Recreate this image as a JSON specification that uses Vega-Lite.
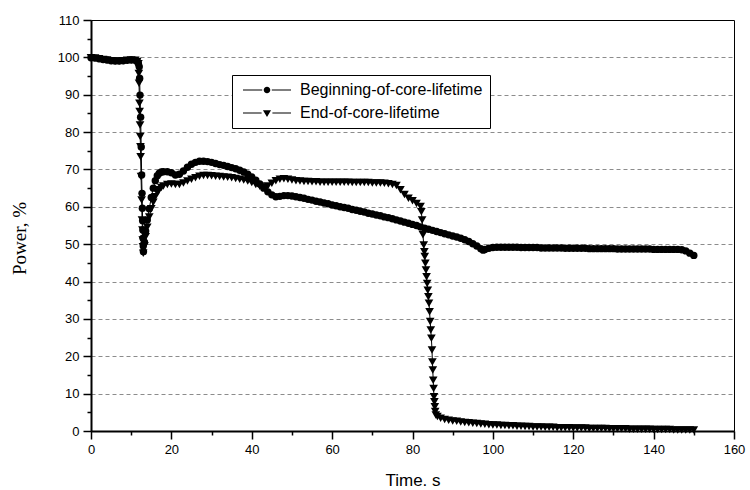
{
  "$schema": "https://vega.github.io/schema/vega-lite/v6.json",
  "width": 643,
  "height": 411,
  "autosize": "none",
  "padding": {"left": 91, "top": 20, "right": 16, "bottom": 59},
  "background": "white",
  "config": {"view": {"stroke": "black", "strokeWidth": 1}, "font": "Liberation Sans"},
  "data": {"values": [
    {"t":0,"p":99.9,"s":"B"},{"t":1,"p":99.8,"s":"B"},{"t":2,"p":99.6,"s":"B"},{"t":3,"p":99.4,"s":"B"},{"t":4,"p":99.3,"s":"B"},{"t":5,"p":99.1,"s":"B"},{"t":6,"p":99.0,"s":"B"},{"t":7,"p":99.0,"s":"B"},{"t":8,"p":99.1,"s":"B"},{"t":9,"p":99.2,"s":"B"},{"t":10,"p":99.3,"s":"B"},{"t":11,"p":99.2,"s":"B"},{"t":11.5,"p":98.9,"s":"B"},{"t":11.8,"p":98.3,"s":"B"},
    {"t":12.0,"p":97.5,"s":"B"},{"t":12.1,"p":94.4,"s":"B"},{"t":12.2,"p":89.9,"s":"B"},{"t":12.35,"p":84,"s":"B"},{"t":12.5,"p":76,"s":"B"},{"t":12.6,"p":68.5,"s":"B"},{"t":12.7,"p":63.6,"s":"B"},{"t":12.78,"p":59.6,"s":"B"},{"t":12.85,"p":56.3,"s":"B"},{"t":12.9,"p":53.8,"s":"B"},{"t":12.95,"p":51.6,"s":"B"},{"t":13.0,"p":49.5,"s":"B"},{"t":13.05,"p":48.0,"s":"B"},
    {"t":13.3,"p":50.5,"s":"B"},{"t":13.6,"p":53.5,"s":"B"},{"t":14,"p":56.5,"s":"B"},{"t":14.5,"p":59.5,"s":"B"},{"t":15,"p":62.5,"s":"B"},{"t":15.5,"p":65,"s":"B"},{"t":16,"p":67,"s":"B"},{"t":16.5,"p":68.3,"s":"B"},{"t":17,"p":69,"s":"B"},{"t":17.5,"p":69.3,"s":"B"},{"t":18,"p":69.4,"s":"B"},{"t":19,"p":69.4,"s":"B"},{"t":20,"p":69.1,"s":"B"},{"t":21,"p":68.5,"s":"B"},{"t":22,"p":68.7,"s":"B"},{"t":23,"p":69.6,"s":"B"},{"t":24,"p":70.6,"s":"B"},{"t":25,"p":71.4,"s":"B"},{"t":26,"p":71.9,"s":"B"},{"t":27,"p":72.2,"s":"B"},{"t":28,"p":72.2,"s":"B"},{"t":29,"p":72.1,"s":"B"},{"t":30,"p":71.9,"s":"B"},{"t":31,"p":71.6,"s":"B"},{"t":32,"p":71.3,"s":"B"},{"t":33,"p":71.1,"s":"B"},{"t":34,"p":70.8,"s":"B"},{"t":35,"p":70.5,"s":"B"},{"t":36,"p":70.2,"s":"B"},{"t":37,"p":69.8,"s":"B"},{"t":38,"p":69.3,"s":"B"},{"t":39,"p":68.7,"s":"B"},{"t":40,"p":68.0,"s":"B"},{"t":41,"p":67.1,"s":"B"},{"t":42,"p":66.1,"s":"B"},{"t":43,"p":65.0,"s":"B"},{"t":44,"p":64.0,"s":"B"},{"t":45,"p":63.2,"s":"B"},{"t":46,"p":62.7,"s":"B"},{"t":47,"p":62.8,"s":"B"},{"t":48,"p":63.0,"s":"B"},{"t":49,"p":63.0,"s":"B"},{"t":50,"p":62.9,"s":"B"},{"t":51,"p":62.7,"s":"B"},{"t":52,"p":62.5,"s":"B"},{"t":53,"p":62.3,"s":"B"},{"t":54,"p":62.0,"s":"B"},{"t":55,"p":61.8,"s":"B"},{"t":56,"p":61.5,"s":"B"},{"t":57,"p":61.3,"s":"B"},{"t":58,"p":61.0,"s":"B"},{"t":59,"p":60.8,"s":"B"},{"t":60,"p":60.5,"s":"B"},{"t":61,"p":60.3,"s":"B"},{"t":62,"p":60.0,"s":"B"},{"t":63,"p":59.8,"s":"B"},{"t":64,"p":59.6,"s":"B"},{"t":65,"p":59.3,"s":"B"},{"t":66,"p":59.1,"s":"B"},{"t":67,"p":58.8,"s":"B"},{"t":68,"p":58.6,"s":"B"},{"t":69,"p":58.3,"s":"B"},{"t":70,"p":58.1,"s":"B"},{"t":71,"p":57.8,"s":"B"},{"t":72,"p":57.6,"s":"B"},{"t":73,"p":57.3,"s":"B"},{"t":74,"p":57.1,"s":"B"},{"t":75,"p":56.8,"s":"B"},{"t":76,"p":56.5,"s":"B"},{"t":77,"p":56.2,"s":"B"},{"t":78,"p":55.9,"s":"B"},{"t":79,"p":55.6,"s":"B"},{"t":80,"p":55.3,"s":"B"},{"t":81,"p":55.0,"s":"B"},{"t":82,"p":54.6,"s":"B"},{"t":83,"p":54.3,"s":"B"},{"t":84,"p":54.0,"s":"B"},{"t":85,"p":53.7,"s":"B"},{"t":86,"p":53.4,"s":"B"},{"t":87,"p":53.1,"s":"B"},{"t":88,"p":52.8,"s":"B"},{"t":89,"p":52.5,"s":"B"},{"t":90,"p":52.2,"s":"B"},{"t":91,"p":51.9,"s":"B"},{"t":92,"p":51.6,"s":"B"},{"t":93,"p":51.2,"s":"B"},{"t":94,"p":50.7,"s":"B"},{"t":95,"p":50.1,"s":"B"},{"t":96,"p":49.5,"s":"B"},{"t":97,"p":48.8,"s":"B"},{"t":97.6,"p":48.4,"s":"B"},{"t":98,"p":48.6,"s":"B"},{"t":99,"p":48.9,"s":"B"},{"t":100,"p":49.1,"s":"B"},{"t":101,"p":49.2,"s":"B"},{"t":102,"p":49.2,"s":"B"},{"t":103,"p":49.2,"s":"B"},{"t":104,"p":49.2,"s":"B"},{"t":105,"p":49.2,"s":"B"},{"t":106,"p":49.2,"s":"B"},{"t":107,"p":49.1,"s":"B"},{"t":108,"p":49.1,"s":"B"},{"t":109,"p":49.1,"s":"B"},{"t":110,"p":49.1,"s":"B"},{"t":111,"p":49.1,"s":"B"},{"t":112,"p":49.0,"s":"B"},{"t":113,"p":49.0,"s":"B"},{"t":114,"p":49.0,"s":"B"},{"t":115,"p":49.0,"s":"B"},{"t":116,"p":49.0,"s":"B"},{"t":117,"p":49.0,"s":"B"},{"t":118,"p":48.9,"s":"B"},{"t":119,"p":48.9,"s":"B"},{"t":120,"p":48.9,"s":"B"},{"t":121,"p":48.9,"s":"B"},{"t":122,"p":48.9,"s":"B"},{"t":123,"p":48.9,"s":"B"},{"t":124,"p":48.8,"s":"B"},{"t":125,"p":48.8,"s":"B"},{"t":126,"p":48.8,"s":"B"},{"t":127,"p":48.8,"s":"B"},{"t":128,"p":48.8,"s":"B"},{"t":129,"p":48.8,"s":"B"},{"t":130,"p":48.8,"s":"B"},{"t":131,"p":48.7,"s":"B"},{"t":132,"p":48.7,"s":"B"},{"t":133,"p":48.7,"s":"B"},{"t":134,"p":48.7,"s":"B"},{"t":135,"p":48.7,"s":"B"},{"t":136,"p":48.7,"s":"B"},{"t":137,"p":48.7,"s":"B"},{"t":138,"p":48.7,"s":"B"},{"t":139,"p":48.7,"s":"B"},{"t":140,"p":48.6,"s":"B"},{"t":141,"p":48.6,"s":"B"},{"t":142,"p":48.6,"s":"B"},{"t":143,"p":48.6,"s":"B"},{"t":144,"p":48.6,"s":"B"},{"t":145,"p":48.6,"s":"B"},{"t":146,"p":48.6,"s":"B"},{"t":147,"p":48.5,"s":"B"},{"t":148,"p":48.2,"s":"B"},{"t":149,"p":47.6,"s":"B"},{"t":150,"p":47.0,"s":"B"},
    {"t":0,"p":99.9,"s":"E"},{"t":1,"p":99.8,"s":"E"},{"t":2,"p":99.6,"s":"E"},{"t":3,"p":99.4,"s":"E"},{"t":4,"p":99.3,"s":"E"},{"t":5,"p":99.1,"s":"E"},{"t":6,"p":99.0,"s":"E"},{"t":7,"p":99.0,"s":"E"},{"t":8,"p":99.1,"s":"E"},{"t":9,"p":99.2,"s":"E"},{"t":10,"p":99.3,"s":"E"},{"t":11,"p":99.2,"s":"E"},{"t":11.5,"p":98.9,"s":"E"},{"t":11.8,"p":98.3,"s":"E"},
    {"t":11.9,"p":95.7,"s":"E"},{"t":11.95,"p":93.1,"s":"E"},{"t":12.05,"p":87.7,"s":"E"},{"t":12.1,"p":85.5,"s":"E"},{"t":12.2,"p":81.9,"s":"E"},{"t":12.25,"p":78.8,"s":"E"},{"t":12.3,"p":76.1,"s":"E"},{"t":12.35,"p":73.4,"s":"E"},{"t":12.45,"p":68.1,"s":"E"},{"t":12.6,"p":61.8,"s":"E"},{"t":12.7,"p":56.5,"s":"E"},{"t":12.8,"p":53.8,"s":"E"},{"t":12.87,"p":51.1,"s":"E"},{"t":12.93,"p":49.3,"s":"E"},{"t":13.0,"p":47.6,"s":"E"},
    {"t":13.3,"p":49.5,"s":"E"},{"t":13.6,"p":52,"s":"E"},{"t":14,"p":54.5,"s":"E"},{"t":14.5,"p":57.3,"s":"E"},{"t":15,"p":59.5,"s":"E"},{"t":15.5,"p":61.2,"s":"E"},{"t":16,"p":62.7,"s":"E"},{"t":16.5,"p":63.8,"s":"E"},{"t":17,"p":64.6,"s":"E"},{"t":17.5,"p":65.2,"s":"E"},{"t":18,"p":65.6,"s":"E"},{"t":19,"p":66.0,"s":"E"},{"t":20,"p":66.1,"s":"E"},{"t":21,"p":66.0,"s":"E"},{"t":22,"p":66.0,"s":"E"},{"t":23,"p":66.4,"s":"E"},{"t":24,"p":66.9,"s":"E"},{"t":25,"p":67.4,"s":"E"},{"t":26,"p":67.8,"s":"E"},{"t":27,"p":68.2,"s":"E"},{"t":28,"p":68.4,"s":"E"},{"t":29,"p":68.4,"s":"E"},{"t":30,"p":68.3,"s":"E"},{"t":31,"p":68.2,"s":"E"},{"t":32,"p":68.1,"s":"E"},{"t":33,"p":68.0,"s":"E"},{"t":34,"p":67.9,"s":"E"},{"t":35,"p":67.8,"s":"E"},{"t":36,"p":67.6,"s":"E"},{"t":37,"p":67.4,"s":"E"},{"t":38,"p":67.2,"s":"E"},{"t":39,"p":66.9,"s":"E"},{"t":40,"p":66.5,"s":"E"},{"t":41,"p":66.0,"s":"E"},{"t":42,"p":65.5,"s":"E"},{"t":43,"p":65.3,"s":"E"},{"t":44,"p":65.6,"s":"E"},{"t":45,"p":66.3,"s":"E"},{"t":46,"p":67.0,"s":"E"},{"t":47,"p":67.4,"s":"E"},{"t":48,"p":67.5,"s":"E"},{"t":49,"p":67.4,"s":"E"},{"t":50,"p":67.2,"s":"E"},{"t":51,"p":67.0,"s":"E"},{"t":52,"p":66.9,"s":"E"},{"t":53,"p":66.8,"s":"E"},{"t":54,"p":66.8,"s":"E"},{"t":55,"p":66.7,"s":"E"},{"t":56,"p":66.7,"s":"E"},{"t":57,"p":66.6,"s":"E"},{"t":58,"p":66.6,"s":"E"},{"t":59,"p":66.6,"s":"E"},{"t":60,"p":66.6,"s":"E"},{"t":61,"p":66.6,"s":"E"},{"t":62,"p":66.6,"s":"E"},{"t":63,"p":66.6,"s":"E"},{"t":64,"p":66.6,"s":"E"},{"t":65,"p":66.5,"s":"E"},{"t":66,"p":66.5,"s":"E"},{"t":67,"p":66.5,"s":"E"},{"t":68,"p":66.5,"s":"E"},{"t":69,"p":66.5,"s":"E"},{"t":70,"p":66.4,"s":"E"},{"t":71,"p":66.4,"s":"E"},{"t":72,"p":66.4,"s":"E"},{"t":73,"p":66.3,"s":"E"},{"t":74,"p":66.2,"s":"E"},{"t":75,"p":66.0,"s":"E"},{"t":76,"p":65.7,"s":"E"},{"t":77,"p":64.6,"s":"E"},{"t":78,"p":63.3,"s":"E"},{"t":79,"p":62.3,"s":"E"},{"t":80,"p":61.6,"s":"E"},{"t":81,"p":60.9,"s":"E"},{"t":82,"p":60.1,"s":"E"},
    {"t":82.2,"p":58.7,"s":"E"},{"t":82.4,"p":56.5,"s":"E"},{"t":82.6,"p":52.5,"s":"E"},{"t":82.8,"p":49.8,"s":"E"},{"t":82.95,"p":48.0,"s":"E"},{"t":83.05,"p":46.7,"s":"E"},{"t":83.2,"p":44.9,"s":"E"},{"t":83.35,"p":43.1,"s":"E"},{"t":83.5,"p":41.3,"s":"E"},{"t":83.65,"p":39.5,"s":"E"},{"t":83.8,"p":37.7,"s":"E"},{"t":83.95,"p":35.9,"s":"E"},{"t":84.1,"p":34.2,"s":"E"},{"t":84.25,"p":31.9,"s":"E"},{"t":84.4,"p":29.3,"s":"E"},{"t":84.55,"p":27.0,"s":"E"},{"t":84.7,"p":24.8,"s":"E"},{"t":84.85,"p":21.7,"s":"E"},{"t":84.95,"p":18.5,"s":"E"},{"t":85.05,"p":16.3,"s":"E"},{"t":85.15,"p":13.6,"s":"E"},{"t":85.25,"p":11.4,"s":"E"},{"t":85.35,"p":9.2,"s":"E"},{"t":85.45,"p":7.8,"s":"E"},{"t":85.55,"p":6.5,"s":"E"},{"t":85.65,"p":5.2,"s":"E"},{"t":85.8,"p":4.3,"s":"E"},
    {"t":86.2,"p":3.9,"s":"E"},{"t":87,"p":3.4,"s":"E"},{"t":88,"p":3.1,"s":"E"},{"t":89,"p":2.9,"s":"E"},{"t":90,"p":2.7,"s":"E"},{"t":91,"p":2.6,"s":"E"},{"t":92,"p":2.4,"s":"E"},{"t":93,"p":2.3,"s":"E"},{"t":94,"p":2.2,"s":"E"},{"t":95,"p":2.1,"s":"E"},{"t":96,"p":2.0,"s":"E"},{"t":97,"p":1.9,"s":"E"},{"t":98,"p":1.8,"s":"E"},{"t":99,"p":1.7,"s":"E"},{"t":100,"p":1.6,"s":"E"},{"t":101,"p":1.6,"s":"E"},{"t":102,"p":1.5,"s":"E"},{"t":103,"p":1.5,"s":"E"},{"t":104,"p":1.4,"s":"E"},{"t":105,"p":1.4,"s":"E"},{"t":106,"p":1.3,"s":"E"},{"t":107,"p":1.3,"s":"E"},{"t":108,"p":1.2,"s":"E"},{"t":109,"p":1.2,"s":"E"},{"t":110,"p":1.1,"s":"E"},{"t":111,"p":1.1,"s":"E"},{"t":112,"p":1.1,"s":"E"},{"t":113,"p":1.0,"s":"E"},{"t":114,"p":1.0,"s":"E"},{"t":115,"p":1.0,"s":"E"},{"t":116,"p":0.9,"s":"E"},{"t":117,"p":0.9,"s":"E"},{"t":118,"p":0.9,"s":"E"},{"t":119,"p":0.9,"s":"E"},{"t":120,"p":0.8,"s":"E"},{"t":121,"p":0.8,"s":"E"},{"t":122,"p":0.8,"s":"E"},{"t":123,"p":0.8,"s":"E"},{"t":124,"p":0.7,"s":"E"},{"t":125,"p":0.7,"s":"E"},{"t":126,"p":0.7,"s":"E"},{"t":127,"p":0.7,"s":"E"},{"t":128,"p":0.7,"s":"E"},{"t":129,"p":0.6,"s":"E"},{"t":130,"p":0.6,"s":"E"},{"t":131,"p":0.6,"s":"E"},{"t":132,"p":0.6,"s":"E"},{"t":133,"p":0.6,"s":"E"},{"t":134,"p":0.5,"s":"E"},{"t":135,"p":0.5,"s":"E"},{"t":136,"p":0.5,"s":"E"},{"t":137,"p":0.5,"s":"E"},{"t":138,"p":0.5,"s":"E"},{"t":139,"p":0.5,"s":"E"},{"t":140,"p":0.4,"s":"E"},{"t":141,"p":0.4,"s":"E"},{"t":142,"p":0.4,"s":"E"},{"t":143,"p":0.4,"s":"E"},{"t":144,"p":0.4,"s":"E"},{"t":145,"p":0.3,"s":"E"},{"t":146,"p":0.3,"s":"E"},{"t":147,"p":0.3,"s":"E"},{"t":148,"p":0.3,"s":"E"},{"t":149,"p":0.3,"s":"E"},{"t":150,"p":0.3,"s":"E"}
  ]},
  "encoding": {
    "x": {
      "field": "t", "type": "quantitative",
      "scale": {"domain": [0, 160], "nice": false, "zero": false},
      "axis": {
        "values": [0,10,20,30,40,50,60,70,80,90,100,110,120,130,140,150,160],
        "title": "Time. s", "grid": false,
        "domainColor": "black", "domainWidth": 2,
        "tickColor": "black", "tickWidth": 1.5,
        "tickSize": {"condition": {"test": "datum.value % 20 === 0", "value": 8}, "value": 4},
        "labelExpr": "datum.value % 20 === 0 ? datum.label : ''",
        "labelFont": "Liberation Sans", "labelFontSize": 13, "labelColor": "black", "labelPadding": 4,
        "labelFlush": false, "labelOverlap": false,
        "titleFont": "Liberation Sans", "titleFontSize": 17, "titleFontWeight": "normal", "titleColor": "black", "titlePadding": 16
      }
    },
    "y": {
      "field": "p", "type": "quantitative",
      "scale": {"domain": [0, 110], "nice": false, "zero": false},
      "axis": {
        "values": [0,5,10,15,20,25,30,35,40,45,50,55,60,65,70,75,80,85,90,95,100,105,110],
        "title": "Power, %",
        "grid": true, "gridColor": "#8c8c8c", "gridDash": [4, 3], "gridWidth": 1,
        "gridOpacity": {"condition": {"test": "datum.value % 10 === 0 && datum.value > 0 && datum.value < 110", "value": 1}, "value": 0},
        "domainColor": "black", "domainWidth": 2,
        "tickColor": "black", "tickWidth": 1.5,
        "tickSize": {"condition": {"test": "datum.value % 10 === 0", "value": 8}, "value": 4},
        "labelExpr": "datum.value % 10 === 0 ? datum.label : ''",
        "labelFont": "Liberation Sans", "labelFontSize": 13, "labelColor": "black", "labelPadding": 4,
        "labelFlush": false, "labelOverlap": false,
        "titleFont": "Liberation Serif", "titleFontSize": 19, "titleFontWeight": "normal", "titleColor": "black",
        "titleX": -62, "titleY": 218
      }
    }
  },
  "layer": [
    {
      "mark": {"type": "line", "color": "black", "strokeWidth": 1},
      "encoding": {"detail": {"field": "s", "type": "nominal"}}
    },
    {
      "mark": {"type": "point", "filled": true, "color": "black", "opacity": 1},
      "encoding": {
        "shape": {
          "field": "s", "type": "nominal",
          "scale": {"domain": ["B", "E"], "range": ["circle", "triangle-down"]},
          "legend": null
        },
        "size": {
          "field": "s", "type": "nominal",
          "scale": {"domain": ["B", "E"], "range": [55, 75]},
          "legend": null
        }
      }
    },
    {
      "transform": [{"filter": "datum.t < 0"}],
      "mark": {"type": "point", "filled": true, "color": "black", "size": 36, "opacity": 1},
      "encoding": {
        "shape": {
          "field": "s", "type": "nominal",
          "scale": {"domain": ["B", "E"], "range": [
            "M-8,-0.2L-1.6,-0.2L-1.6,0.2L-8,0.2Z M1.6,-0.2L8,-0.2L8,0.2L1.6,0.2Z M-1.1,0A1.1,1.1,0,1,1,1.1,0A1.1,1.1,0,1,1,-1.1,0Z",
            "M-8,-0.2L-1.8,-0.2L-1.8,0.2L-8,0.2Z M1.8,-0.2L8,-0.2L8,0.2L1.8,0.2Z M-1.35,-0.95L1.35,-0.95L0,1.3Z"
          ]},
          "legend": {
            "orient": "none", "legendX": 141, "legendY": 55,
            "title": null, "direction": "vertical",
            "labelExpr": "datum.value === 'B' ? 'Beginning-of-core-lifetime' : 'End-of-core-lifetime'",
            "labelFont": "Liberation Sans", "labelFontSize": 16, "labelColor": "black", "labelLimit": 500,
            "symbolSize": 36, "symbolFillColor": "black", "symbolOpacity": 1,
            "symbolOffset": 20, "labelOffset": 25,
            "padding": 7, "rowPadding": 7,
            "strokeColor": "black", "fillColor": "white"
          }
        }
      }
    }
  ],
  "resolve": {"scale": {"shape": "independent", "size": "independent"}}
}
